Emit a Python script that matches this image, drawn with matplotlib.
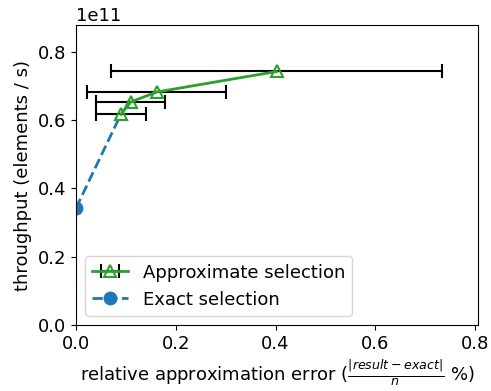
import numpy as np
import matplotlib
matplotlib.use("Agg")
import matplotlib.pyplot as plt

plt.rcParams['font.size'] = 13

# approximate selection: error (%), error spread, throughput (elements / s)
approx_err = [0.090, 0.110, 0.162, 0.402]
approx_err_spread = [0.050, 0.069, 0.139, 0.331]
approx_tp = [0.617e11, 0.653e11, 0.682e11, 0.742e11]

# exact selection (line joins the first approximate point)
exact_err = [0.0, 0.090]
exact_tp = [0.342e11, 0.617e11]

fig = plt.figure(figsize=(4.91, 3.91), dpi=100)
ax = fig.add_axes([0.1548, 0.1688, 0.974 - 0.1548, 0.936 - 0.1688])

ex, = ax.plot(exact_err, exact_tp, '--o', color='tab:blue', markersize=9,
              markevery=[0], linewidth=2, label='Exact selection', zorder=2)
ap = ax.errorbar(approx_err, approx_tp, xerr=approx_err_spread, fmt='-^',
                 color='tab:green', ecolor='black', elinewidth=1.5, capsize=5,
                 capthick=1.5, markersize=9, markerfacecolor='none',
                 markeredgewidth=1.5, linewidth=2, label='Approximate selection',
                 zorder=3)

ax.set_xlim(0, 0.806)
ax.set_ylim(0, 0.878e11)
ax.set_xticks([0.0, 0.2, 0.4, 0.6, 0.8])
ax.set_yticks([0.0, 0.2e11, 0.4e11, 0.6e11, 0.8e11])
ax.ticklabel_format(axis='y', style='sci', scilimits=(11, 11))
ax.set_xlabel(r'relative approximation error ($\frac{|result - exact|}{n}$ %)')
ax.set_ylabel('throughput (elements / s)')
ax.legend(handles=[ap, ex], loc='lower left')

fig.savefig('out.png', dpi=100)
